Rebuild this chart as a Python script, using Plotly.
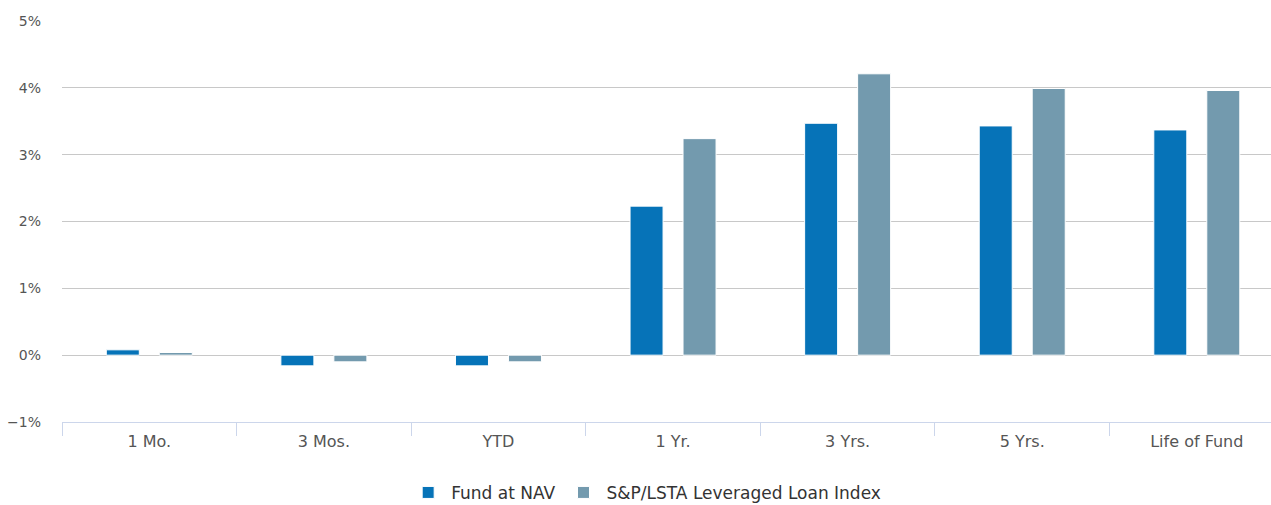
import plotly.graph_objects as go

categories = ["1 Mo.", "3 Mos.", "YTD", "1 Yr.", "3 Yrs.", "5 Yrs.", "Life of Fund"]
fund_nav = [0.08, -0.16, -0.16, 2.23, 3.47, 3.43, 3.37]
loan_index = [0.04, -0.10, -0.10, 3.24, 4.21, 3.99, 3.96]
series_names = ["Fund at NAV", "S&P/LSTA Leveraged Loan Index"]
y_ticks = [-1, 0, 1, 2, 3, 4, 5]
y_tick_labels = ["\u22121%", "0%", "1%", "2%", "3%", "4%", "5%"]

FONT = "DejaVu Sans, sans-serif"

fig = go.Figure()
fig.add_trace(go.Bar(x=categories, y=fund_nav, name=series_names[0],
                     marker=dict(color="#0673b8", line=dict(color="#ffffff", width=1))))
fig.add_trace(go.Bar(x=categories, y=loan_index, name=series_names[1],
                     marker=dict(color="#739aae", line=dict(color="#ffffff", width=1))))

fig.update_layout(
    width=1271, height=505,
    margin=dict(l=62, r=0, t=21, b=83, autoexpand=False),
    paper_bgcolor="white", plot_bgcolor="white",
    barmode="group", bargap=0.393, bargroupgap=0.377,
    font=dict(family=FONT, color="#555555", size=13),
    showlegend=True,
    legend=dict(orientation="h", xref="container", x=0.508, xanchor="center",
                yref="container", y=0.024, yanchor="middle",
                font=dict(size=17, color="#333333"),
                itemwidth=36, traceorder="normal"),
    hovermode=False,
)
fig.update_xaxes(
    range=[-0.5, 6.425],
    showgrid=False, showline=True, linecolor="#ccd6eb", linewidth=1,
    ticks="outside", tickson="boundaries", ticklen=13, tickcolor="#ccd6eb",
    tickfont=dict(size=16, color="#555555"),
    ticklabelstandoff=5,
    zeroline=False,
)
fig.update_yaxes(
    range=[-1, 5], tickvals=y_ticks, ticktext=y_tick_labels,
    showgrid=True, gridcolor="#c8c8c8", gridwidth=1,
    zeroline=True, zerolinecolor="#c8c8c8", zerolinewidth=1,
    tickfont=dict(size=14, color="#555555"),
    ticklabelstandoff=20,
)

fig.write_html("out.html")
